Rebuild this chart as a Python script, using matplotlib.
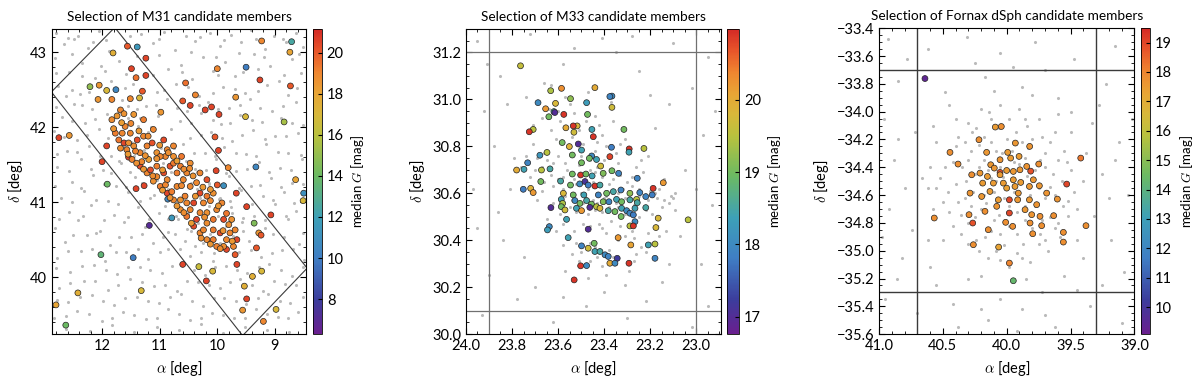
import numpy as np
import matplotlib
matplotlib.use("Agg")
import matplotlib.pyplot as plt
from matplotlib.colors import LinearSegmentedColormap
from matplotlib.ticker import AutoMinorLocator, MultipleLocator

plt.rcParams['font.family'] = ['Lato', 'DejaVu Sans']
plt.rcParams['mathtext.fontset'] = 'cm'

# --- M31: colored candidates (ra, dec, median G) ---
m31_field = [
    (11.56, 43.08, 20.0), (11.39, 43.07, 11.5), (11.81, 42.99, 17.5), (11.24, 42.92, 20.5),
    (11.49, 42.78, 20.5), (11.41, 42.66, 19.5), (11.24, 42.69, 20.5), (12.21, 42.54, 15.0),
    (12.05, 42.56, 18.5), (11.92, 42.49, 17.0), (11.76, 42.50, 10.5), (12.07, 42.37, 18.5),
    (11.83, 42.37, 19.0), (11.51, 42.38, 19.0), (11.30, 42.48, 20.0), (11.35, 42.39, 17.0),
    (10.98, 42.20, 18.5), (12.75, 41.86, 20.5), (12.57, 41.89, 18.5), (12.00, 41.54, 20.5),
    (11.91, 41.24, 14.0), (11.92, 41.75, 20.5), (11.41, 41.18, 20.5), (11.27, 41.22, 20.5),
    (11.54, 41.60, 20.5), (11.18, 40.69, 7.0), (12.02, 40.30, 13.5), (11.46, 40.26, 10.0),
    (11.32, 39.82, 17.0), (12.42, 39.79, 17.5), (12.80, 39.63, 18.0), (12.63, 39.36, 14.0),
    (10.60, 40.17, 20.5), (10.32, 40.14, 16.5), (10.19, 39.95, 20.5), (10.08, 40.08, 17.0),
    (10.86, 41.04, 10.5), (10.79, 40.79, 11.5), (10.55, 42.59, 19.5), (10.38, 42.43, 19.0),
    (10.60, 42.35, 20.0), (10.47, 42.29, 20.5), (10.21, 42.23, 20.5), (10.10, 42.27, 20.5),
    (10.00, 42.78, 19.0), (9.97, 42.17, 20.5), (10.04, 41.87, 20.0), (9.98, 41.69, 20.5),
    (10.02, 41.42, 20.5), (9.81, 41.46, 19.0), (10.00, 41.23, 20.0), (9.89, 41.22, 11.0),
    (9.67, 41.12, 20.5), (9.49, 40.94, 20.5), (9.68, 42.40, 18.5), (9.51, 42.14, 17.0),
    (9.50, 42.80, 10.0), (9.26, 42.63, 20.5), (9.23, 43.15, 19.0), (8.71, 43.14, 12.5),
    (8.74, 43.00, 18.0), (8.73, 42.55, 20.0), (8.84, 42.07, 15.5), (9.33, 41.47, 10.5),
    (8.64, 41.30, 18.0), (8.50, 41.12, 11.0), (8.51, 41.02, 17.0), (9.07, 40.83, 20.5),
    (9.36, 40.72, 14.5), (9.28, 40.59, 18.5), (9.24, 40.56, 20.0), (9.32, 40.39, 20.0),
    (9.39, 40.01, 17.5), (9.23, 40.08, 17.0), (9.53, 39.88, 17.5), (9.49, 39.71, 20.5),
    (9.56, 39.56, 18.5), (8.98, 39.57, 17.0), (9.20, 39.41, 19.0), (9.66, 40.17, 20.5),
    (9.69, 40.30, 20.0),
]
m31_disk = [
    (11.68, 42.23, 19.0), (11.45, 42.17, 18.5), (11.28, 42.10, 19.2), (11.11, 41.97, 19.0),
    (10.93, 41.83, 20.3), (10.76, 41.75, 19.0), (10.62, 41.61, 19.3), (10.47, 41.52, 18.8),
    (10.30, 41.39, 19.0), (10.18, 41.30, 20.2), (10.07, 41.12, 18.7), (9.92, 40.99, 19.0),
    (9.84, 40.85, 19.4), (9.75, 40.77, 18.6), (9.69, 40.63, 19.0), (9.66, 40.50, 20.4),
    (11.83, 42.10, 18.8), (11.77, 41.92, 19.2), (11.62, 41.79, 20.4), (11.57, 41.70, 19.0),
    (11.48, 41.57, 19.1), (11.34, 41.48, 20.3), (11.22, 41.39, 19.0), (11.11, 41.28, 18.7),
    (10.99, 41.21, 19.2), (10.87, 41.12, 20.4), (10.76, 41.03, 19.0), (10.64, 40.90, 18.8),
    (10.53, 40.81, 19.4), (10.41, 40.68, 20.3), (10.30, 40.59, 19.0), (10.18, 40.50, 18.9),
    (10.01, 40.41, 19.1), (9.84, 40.37, 20.4), (9.72, 40.41, 19.0),
    (11.51, 41.92, 19.0), (11.39, 41.83, 20.3), (11.22, 41.75, 19.1), (11.05, 41.66, 18.6),
    (10.90, 41.61, 19.0), (10.82, 41.48, 20.2), (10.70, 41.39, 19.2), (10.59, 41.30, 18.9),
    (10.47, 41.21, 19.0), (10.30, 41.12, 20.4), (10.24, 40.99, 19.0), (10.18, 40.86, 18.7),
    (10.07, 40.77, 19.3), (9.95, 40.59, 20.3), (9.84, 40.50, 19.0), (11.34, 41.66, 19.0),
    (11.19, 41.57, 18.3), (11.05, 41.48, 19.2), (10.93, 41.39, 20.3), (10.70, 41.21, 19.0),
    (10.56, 41.08, 19.1), (10.41, 40.99, 20.4), (10.30, 40.86, 19.0), (10.18, 40.72, 18.8),
    (10.07, 40.63, 19.2), (10.99, 41.61, 19.0), (10.87, 41.30, 18.9), (10.76, 41.52, 19.3),
    (10.53, 40.99, 19.0), (11.74, 42.15, 18.5), (11.60, 42.01, 19.0), (11.71, 41.83, 19.4),
    (11.45, 41.75, 18.8), (11.28, 41.88, 19.0), (11.13, 41.79, 20.2), (10.87, 41.70, 19.0),
    (10.76, 41.61, 18.7), (10.64, 41.48, 19.2), (10.53, 41.39, 19.0), (10.36, 41.26, 18.9),
    (10.18, 41.08, 19.3), (10.01, 40.90, 19.0), (9.89, 40.77, 20.3), (9.78, 40.59, 19.0),
    (9.89, 40.41, 18.8), (10.07, 40.50, 19.2), (10.24, 40.63, 19.0), (10.36, 40.77, 20.4),
    (10.47, 40.90, 19.0), (10.64, 41.03, 18.6), (10.79, 41.14, 19.2), (10.90, 41.23, 19.0),
    (11.05, 41.34, 18.9), (11.16, 41.43, 20.3), (11.31, 41.54, 19.0), (11.42, 41.68, 19.1),
    (11.54, 41.79, 18.7), (11.65, 41.92, 19.0),
    (11.62, 42.18, 18.6), (11.50, 42.05, 18.9), (11.36, 41.95, 18.4), (11.20, 41.88, 18.8),
    (11.00, 41.76, 18.5), (10.85, 41.66, 18.7), (10.70, 41.55, 18.3), (10.58, 41.44, 18.8),
    (10.42, 41.35, 18.6), (10.25, 41.20, 18.4), (10.12, 41.02, 18.9), (9.98, 40.95, 18.5),
    (9.80, 40.70, 18.7), (9.74, 40.48, 18.4), (9.95, 40.38, 18.8), (10.12, 40.44, 18.5),
    (10.28, 40.52, 18.7), (10.45, 40.72, 18.3), (10.58, 40.86, 18.8), (10.70, 40.95, 18.5),
    (10.82, 41.06, 18.6), (10.95, 41.16, 18.4), (11.12, 41.35, 18.8), (11.28, 41.44, 18.5),
    (11.40, 41.52, 18.7), (11.55, 41.64, 18.4), (11.68, 41.72, 18.8), (11.80, 41.98, 18.5),
    (11.66, 42.06, 18.3), (11.05, 41.58, 18.6), (10.62, 41.22, 18.9), (10.38, 41.08, 18.5),
    (10.22, 40.80, 18.7), (10.95, 41.43, 18.4), (11.25, 41.62, 18.6), (10.48, 41.45, 18.8),
    (10.12, 41.17, 18.5), (9.90, 40.62, 18.6),
]
# M31 background (grey) sources
m31_bg = [
    (12.80, 43.25), (12.41, 43.22), (12.05, 43.28), (11.33, 43.24), (10.92, 43.27), (10.55, 43.21),
    (10.12, 43.26), (9.77, 43.23), (9.41, 43.29), (9.02, 43.22), (8.63, 43.26),
    (12.66, 43.11), (12.25, 43.05), (11.93, 43.16), (11.12, 43.12), (10.74, 43.03), (10.38, 43.15),
    (9.95, 43.08), (9.58, 43.13), (9.17, 43.04), (8.86, 43.17), (8.52, 43.07), (12.48, 43.18),
    (12.81, 42.92), (12.34, 42.85), (11.71, 42.88), (11.02, 42.96), (10.63, 42.83), (10.25, 42.94),
    (9.86, 42.87), (9.37, 42.97), (9.08, 42.82), (8.70, 42.91), (12.02, 42.81),
    (12.57, 42.73), (12.12, 42.66), (11.58, 42.71), (10.85, 42.77), (10.44, 42.64), (10.08, 42.75),
    (9.69, 42.68), (9.29, 42.78), (8.93, 42.62), (8.55, 42.72), (11.85, 42.61),
    (12.76, 42.55), (12.38, 42.44), (11.47, 42.57), (11.05, 42.47), (10.72, 42.58), (10.31, 42.42),
    (9.90, 42.53), (9.52, 42.45), (9.13, 42.56), (8.78, 42.43), (12.63, 42.41),
    (12.49, 42.31), (12.18, 42.24), (11.66, 42.36), (11.24, 42.28), (10.88, 42.37), (10.52, 42.22),
    (10.16, 42.33), (9.80, 42.26), (9.44, 42.38), (9.05, 42.21), (8.64, 42.34),
    (12.70, 42.14), (12.29, 42.05), (11.92, 42.18), (11.38, 42.02), (11.03, 42.15), (10.65, 42.08),
    (10.29, 42.19), (9.93, 42.04), (9.61, 42.16), (9.22, 42.07), (8.90, 42.12), (8.51, 42.03),
    (12.84, 41.95), (12.44, 41.83), (12.06, 41.97), (11.21, 41.93), (10.81, 41.98), (10.47, 41.86),
    (10.11, 41.94), (9.74, 41.81), (9.38, 41.96), (8.99, 41.88), (8.60, 41.92),
    (12.61, 41.68), (12.23, 41.75), (11.85, 41.62), (10.97, 41.72), (10.60, 41.77), (10.22, 41.65),
    (9.88, 41.73), (9.50, 41.64), (9.15, 41.78), (8.77, 41.66),
    (12.78, 41.47), (12.36, 41.58), (11.98, 41.43), (11.67, 41.52), (10.72, 41.56), (10.38, 41.44),
    (10.02, 41.57), (9.67, 41.42), (9.27, 41.53), (8.92, 41.46), (8.53, 41.58),
    (12.53, 41.27), (12.15, 41.36), (11.76, 41.22), (11.42, 41.33), (10.51, 41.38), (10.14, 41.24),
    (9.79, 41.35), (9.42, 41.21), (9.06, 41.32), (8.70, 41.26),
    (12.72, 41.06), (12.31, 41.15), (11.89, 41.02), (11.55, 41.13), (11.16, 41.05), (10.36, 41.17),
    (9.97, 41.04), (9.58, 41.16), (9.20, 41.08), (8.84, 41.14),
    (12.57, 40.87), (12.19, 40.96), (11.80, 40.83), (11.37, 40.93), (11.01, 40.85), (10.72, 40.81),
    (9.76, 40.94), (9.37, 40.82), (9.00, 40.97), (8.63, 40.88),
    (12.82, 40.65), (12.42, 40.76), (12.03, 40.62), (11.62, 40.73), (11.26, 40.67), (10.86, 40.78),
    (10.52, 40.64), (9.57, 40.74), (9.17, 40.66), (8.78, 40.77),
    (12.64, 40.47), (12.26, 40.56), (11.87, 40.43), (11.49, 40.54), (11.11, 40.45), (10.74, 40.57),
    (10.39, 40.42), (9.45, 40.48), (9.03, 40.58), (8.58, 40.44),
    (12.79, 40.26), (12.37, 40.35), (11.95, 40.22), (11.58, 40.33), (11.20, 40.24), (10.85, 40.37),
    (10.47, 40.28), (10.08, 40.21), (9.62, 40.34), (9.24, 40.27), (8.87, 40.36), (8.50, 40.23),
    (12.55, 40.07), (12.14, 40.16), (11.74, 40.04), (11.35, 40.13), (10.96, 40.05), (10.60, 40.18),
    (10.22, 40.03), (9.85, 40.15), (9.48, 40.06), (9.10, 40.17), (8.71, 40.02),
    (12.74, 39.86), (12.32, 39.95), (11.90, 39.83), (11.51, 39.97), (11.09, 39.88), (10.70, 39.81),
    (10.33, 39.94), (9.96, 39.85), (9.60, 39.98), (9.21, 39.82), (8.82, 39.91),
    (12.59, 39.67), (12.18, 39.76), (11.79, 39.63), (11.40, 39.74), (11.02, 39.66), (10.63, 39.78),
    (10.25, 39.61), (9.88, 39.72), (9.50, 39.64), (9.12, 39.77), (8.74, 39.65), (8.52, 39.73),
    (12.83, 39.46), (12.43, 39.55), (12.00, 39.42), (11.63, 39.53), (11.24, 39.44), (10.86, 39.57),
    (10.48, 39.43), (10.10, 39.52), (9.71, 39.45), (9.33, 39.58), (8.95, 39.47), (8.60, 39.54),
    (12.62, 39.31), (12.21, 39.28), (11.82, 39.36), (11.44, 39.27), (11.05, 39.33), (10.66, 39.29),
    (10.28, 39.37), (9.90, 39.26), (9.52, 39.34), (9.14, 39.30), (8.76, 39.27),
    (12.60, 43.19), (12.15, 43.14), (11.52, 43.21), (11.02, 43.17), (10.30, 43.20), (9.88, 43.16),
    (9.33, 43.18), (8.80, 43.13), (12.52, 42.98), (11.88, 43.02), (11.40, 42.95), (10.45, 43.00),
    (10.02, 42.94), (9.62, 42.99), (9.19, 42.93), (8.58, 42.97), (12.80, 42.72), (12.35, 42.68),
    (11.95, 42.75), (11.12, 42.70), (10.61, 42.74), (9.98, 42.69), (9.55, 42.73), (8.84, 42.70),
    (12.52, 42.50), (12.22, 42.47), (11.60, 42.52), (10.92, 42.49), (10.50, 42.53), (10.08, 42.46),
    (9.70, 42.51), (9.30, 42.48), (8.62, 42.52), (12.80, 42.27), (12.35, 42.30), (11.40, 42.24),
    (11.06, 42.29), (10.70, 42.25), (10.32, 42.30), (9.98, 42.24), (9.60, 42.29), (9.25, 42.26),
    (8.86, 42.28), (12.52, 42.08), (12.12, 42.11), (10.45, 42.06), (10.08, 42.10), (9.78, 42.05),
    (9.40, 42.09), (8.70, 42.06), (12.66, 41.87), (12.27, 41.90), (11.90, 41.85), (10.28, 41.89),
    (9.92, 41.86), (9.57, 41.90), (9.18, 41.84), (8.80, 41.88), (12.78, 41.64), (12.43, 41.67),
    (12.03, 41.61), (10.40, 41.66), (10.04, 41.62), (9.68, 41.66), (9.32, 41.62), (8.95, 41.67),
    (8.55, 41.63), (12.58, 41.41), (12.20, 41.44), (11.85, 41.39), (10.20, 41.43), (9.85, 41.39),
    (9.48, 41.44), (9.10, 41.40), (8.72, 41.43), (12.82, 41.22), (12.36, 41.19), (11.96, 41.24),
    (11.58, 41.20), (9.98, 41.24), (9.62, 41.19), (9.25, 41.23), (8.90, 41.20), (8.52, 41.24),
    (12.52, 41.00), (12.10, 41.03), (11.72, 40.98), (11.34, 41.02), (10.52, 40.98), (9.78, 41.02),
    (9.40, 40.98), (9.03, 41.03), (8.66, 40.99), (12.74, 40.78), (12.33, 40.81), (11.96, 40.76),
    (11.55, 40.80), (11.18, 40.77), (10.86, 40.60), (9.55, 40.79), (9.18, 40.76), (8.80, 40.81),
    (12.50, 40.56), (12.10, 40.59), (11.70, 40.54), (11.30, 40.58), (10.94, 40.54), (10.56, 40.48),
    (9.30, 40.57), (8.85, 40.54), (8.52, 40.59), (12.60, 40.35), (12.18, 40.38), (11.76, 40.33),
    (11.38, 40.37), (11.00, 40.33), (10.64, 40.38), (10.28, 40.33), (9.42, 40.36), (9.05, 40.32),
    (8.68, 40.38), (12.80, 40.12), (12.35, 40.15), (11.94, 40.10), (11.55, 40.14), (11.16, 40.10),
    (10.78, 40.15), (10.40, 40.10), (10.04, 40.14), (9.66, 40.10), (9.28, 40.14), (8.90, 40.10),
    (8.52, 40.14), (12.55, 39.92), (12.12, 39.95), (11.72, 39.90), (11.30, 39.94), (10.90, 39.90),
    (10.52, 39.95), (10.14, 39.90), (9.78, 39.94), (9.40, 39.90), (9.02, 39.95), (8.64, 39.90),
    (12.78, 39.70), (12.38, 39.73), (11.98, 39.68), (11.60, 39.72), (11.20, 39.68), (10.82, 39.73),
    (10.44, 39.68), (10.06, 39.72), (9.68, 39.68), (9.30, 39.72), (8.92, 39.68), (12.62, 39.48),
    (12.22, 39.51), (11.82, 39.46), (11.44, 39.50), (11.05, 39.46), (10.67, 39.51), (10.29, 39.46),
    (9.90, 39.50), (9.52, 39.46), (9.14, 39.51), (8.78, 39.46),
    (11.72, 42.22), (11.55, 42.12), (11.40, 41.98), (11.78, 41.99), (11.50, 41.80), (11.28, 41.70),
    (11.10, 41.60), (10.95, 41.52), (10.80, 41.40), (10.62, 41.33), (10.45, 41.25), (10.30, 41.05),
    (10.15, 40.95), (9.98, 40.82), (9.85, 40.68), (9.72, 40.55), (9.95, 40.45), (10.12, 40.58),
    (10.33, 40.72), (10.50, 40.86), (10.70, 41.00), (10.85, 41.18), (11.05, 41.30), (11.25, 41.45),
    (11.45, 41.62), (11.62, 41.75), (11.70, 41.55), (11.52, 41.40), (11.30, 41.25), (11.10, 41.10),
    (10.90, 40.95), (10.68, 40.78), (10.45, 40.62), (10.25, 40.45), (10.05, 40.32), (9.70, 40.40),
    (9.55, 40.62), (9.75, 40.85), (9.95, 41.05), (10.15, 41.25), (10.35, 41.40), (10.55, 41.55),
    (10.75, 41.72), (10.95, 41.85), (11.15, 42.00), (11.35, 42.12), (11.55, 42.28),
]
# selection box corners for M31 (ra, dec)
m31_box = [(12.88, 42.47), (11.78, 43.33), (8.44, 40.12), (9.56, 39.22)]

# --- M33 ---
m33_members = [
    (23.763, 31.143, 19.6), (23.632, 31.037, 19.4), (23.585, 31.047, 20.3), (23.440, 31.050, 20.0),
    (23.366, 31.014, 18.0), (23.375, 31.012, 17.9), (23.687, 30.986, 18.0), (23.611, 30.983, 19.8),
    (23.546, 31.003, 19.2), (23.476, 30.986, 18.3), (23.366, 30.966, 19.7), (23.654, 30.960, 20.2),
    (23.618, 30.948, 18.5), (23.640, 30.926, 19.0), (23.614, 30.944, 17.0), (23.575, 30.936, 20.9),
    (23.472, 30.936, 19.0), (23.517, 30.887, 19.8), (23.534, 30.887, 20.9), (23.566, 30.879, 20.0),
    (23.531, 30.860, 19.7), (23.708, 30.872, 19.5), (23.725, 30.862, 20.9), (23.453, 30.872, 18.4),
    (23.447, 30.841, 20.9), (23.314, 30.872, 19.0), (23.582, 30.816, 19.0), (23.551, 30.799, 19.9),
    (23.512, 30.810, 17.0), (23.498, 30.784, 18.4), (23.538, 30.763, 19.0), (23.368, 30.796, 17.8),
    (23.291, 30.789, 20.9), (23.292, 30.775, 18.4), (23.227, 30.791, 19.5), (23.375, 30.756, 20.8),
    (23.732, 30.730, 17.9), (23.679, 30.762, 18.2), (23.648, 30.774, 19.5), (23.454, 30.759, 18.0),
    (23.464, 30.749, 19.0), (23.415, 30.716, 19.7), (23.498, 30.730, 19.0), (23.433, 30.744, 18.4),
    (23.780, 30.699, 20.0), (23.748, 30.702, 18.4), (23.672, 30.699, 19.5), (23.635, 30.704, 18.5),
    (23.675, 30.650, 19.0), (23.589, 30.652, 18.5), (23.538, 30.682, 19.0), (23.502, 30.678, 20.9),
    (23.479, 30.682, 19.0), (23.452, 30.674, 18.4), (23.404, 30.685, 19.1), (23.366, 30.696, 19.0),
    (23.337, 30.685, 17.9), (23.256, 30.664, 17.9), (23.143, 30.645, 20.2), (23.187, 30.621, 20.9),
    (23.546, 30.635, 19.0), (23.506, 30.640, 18.0), (23.483, 30.650, 17.1), (23.469, 30.635, 17.8),
    (23.440, 30.631, 20.9), (23.418, 30.635, 18.5), (23.751, 30.617, 17.8), (23.719, 30.621, 19.9),
    (23.708, 30.603, 20.2), (23.577, 30.600, 19.8), (23.534, 30.593, 19.0), (23.488, 30.593, 18.4),
    (23.425, 30.593, 17.9), (23.389, 30.600, 19.0), (23.360, 30.607, 18.5), (23.327, 30.614, 17.9),
    (23.288, 30.600, 19.2), (23.245, 30.603, 17.9), (23.219, 30.586, 17.9), (23.191, 30.593, 17.8),
    (23.586, 30.574, 18.4), (23.580, 30.557, 19.4), (23.527, 30.569, 18.0), (23.505, 30.557, 19.0),
    (23.476, 30.569, 18.5), (23.455, 30.554, 19.0), (23.404, 30.564, 19.1), (23.379, 30.564, 17.9),
    (23.346, 30.574, 18.4), (23.324, 30.564, 19.0), (23.288, 30.572, 18.5), (23.259, 30.574, 19.5),
    (23.256, 30.560, 18.5), (23.586, 30.543, 19.0), (23.570, 30.529, 19.7), (23.520, 30.536, 18.4),
    (23.498, 30.526, 20.2), (23.462, 30.540, 17.0), (23.433, 30.543, 19.5), (23.418, 30.536, 19.8),
    (23.382, 30.526, 18.5), (23.353, 30.522, 19.0), (23.324, 30.536, 18.4), (23.302, 30.526, 18.0),
    (23.288, 30.515, 17.9), (23.273, 30.508, 17.8), (23.266, 30.536, 18.4), (23.219, 30.539, 18.5),
    (23.631, 30.539, 17.0), (23.326, 30.501, 19.0), (23.266, 30.479, 18.0), (23.288, 30.461, 19.5),
    (23.273, 30.461, 20.9), (23.165, 30.494, 19.8), (23.175, 30.454, 19.8), (23.035, 30.487, 19.5),
    (23.563, 30.489, 18.4), (23.638, 30.458, 18.0), (23.646, 30.444, 18.3), (23.469, 30.447, 17.0),
    (23.556, 30.411, 18.4), (23.339, 30.411, 20.2), (23.284, 30.380, 20.1), (23.443, 30.387, 19.0),
    (23.498, 30.376, 17.9), (23.469, 30.366, 19.7), (23.440, 30.352, 18.4), (23.418, 30.352, 18.5),
    (23.396, 30.338, 18.0), (23.382, 30.331, 17.9), (23.343, 30.323, 17.2), (23.208, 30.380, 18.4),
    (23.179, 30.384, 19.5), (23.179, 30.323, 17.9), (23.375, 30.302, 20.0), (23.353, 30.302, 18.0),
    (23.292, 30.302, 20.9), (23.502, 30.291, 20.9), (23.476, 30.292, 18.0), (23.530, 30.231, 20.9),
]
m33_bg = [
    (23.95, 31.25), (23.72, 31.28), (23.41, 31.26), (23.10, 31.24), (22.95, 31.18), (23.85, 31.10),
    (23.58, 31.15), (23.25, 31.12), (23.02, 31.05), (23.92, 30.95), (23.12, 30.98), (22.97, 30.85),
    (23.88, 30.80), (23.81, 30.62), (23.05, 30.70), (22.93, 30.55), (23.95, 30.45), (23.84, 30.40),
    (23.07, 30.42), (22.98, 30.30), (23.90, 30.25), (23.70, 30.20), (23.40, 30.18), (23.15, 30.22),
    (22.95, 30.12), (23.93, 30.08), (23.62, 30.05), (23.30, 30.07), (23.02, 30.03), (23.75, 30.33),
    (23.10, 30.58), (23.82, 30.98), (23.35, 31.20), (23.66, 31.07), (23.18, 30.88), (23.97, 30.62),
    (23.78, 30.15), (23.48, 30.12), (23.22, 30.14), (22.92, 30.95), (23.53, 31.22), (23.20, 31.02),
    (23.86, 30.52), (23.00, 30.62), (23.58, 30.16), (23.12, 30.30), (23.91, 31.15), (23.28, 31.27),
    (23.64, 30.96), (23.59, 30.91), (23.53, 30.94), (23.51, 30.87), (23.44, 30.93), (23.41, 30.85),
    (23.36, 30.91), (23.31, 30.83), (23.57, 31.01), (23.47, 31.03), (23.37, 30.99),
    (23.71, 30.81), (23.66, 30.77), (23.61, 30.83), (23.54, 30.77), (23.49, 30.81), (23.46, 30.74),
    (23.39, 30.80), (23.34, 30.73), (23.29, 30.79), (23.24, 30.74), (23.21, 30.76),
    (23.73, 30.73), (23.67, 30.71), (23.62, 30.73), (23.58, 30.67), (23.51, 30.72), (23.48, 30.65),
    (23.43, 30.71), (23.36, 30.66), (23.33, 30.68), (23.28, 30.63), (23.23, 30.69), (23.16, 30.62),
    (23.67, 30.61), (23.60, 30.66), (23.57, 30.59), (23.52, 30.64), (23.45, 30.57), (23.42, 30.63),
    (23.35, 30.56), (23.32, 30.62), (23.27, 30.55), (23.20, 30.61), (23.15, 30.54), (23.11, 30.59),
    (23.62, 30.56), (23.59, 30.51), (23.54, 30.57), (23.47, 30.51), (23.44, 30.53), (23.37, 30.48),
    (23.34, 30.54), (23.29, 30.47), (23.22, 30.53), (23.17, 30.46),
    (23.61, 30.44), (23.56, 30.41), (23.49, 30.47), (23.46, 30.39), (23.41, 30.45), (23.34, 30.40),
    (23.31, 30.42), (23.24, 30.37), (23.21, 30.43),
    (23.54, 30.34), (23.51, 30.31), (23.44, 30.37), (23.41, 30.29), (23.36, 30.33), (23.29, 30.27),
    (23.26, 30.34), (23.47, 30.24), (23.39, 30.25), (23.31, 30.21),
    (23.63, 30.68), (23.55, 30.63), (23.44, 30.69), (23.39, 30.59), (23.28, 30.67), (23.49, 30.56),
    (23.36, 30.52), (23.25, 30.59), (23.58, 30.47), (23.42, 30.47), (23.52, 30.39), (23.27, 30.41),
    (23.57, 30.73), (23.47, 30.75), (23.43, 30.82), (23.54, 30.84), (23.63, 30.87), (23.33, 30.81),
    (23.26, 30.71), (23.19, 30.51), (23.14, 30.66), (23.69, 30.57), (23.72, 30.67), (23.76, 30.71),
    (23.79, 30.75), (23.65, 30.49), (23.46, 30.31), (23.38, 30.36), (23.22, 30.35), (23.57, 30.27),
    (23.13, 30.44), (23.09, 30.53), (23.71, 30.89), (23.74, 31.01), (23.63, 31.06),
    (23.50, 30.60), (23.47, 30.62), (23.40, 30.58), (23.38, 30.64), (23.53, 30.66), (23.31, 30.58),
    (23.45, 30.65), (23.41, 30.52), (23.55, 30.54), (23.34, 30.60), (23.12, 30.56), (23.09, 30.60),
    (23.17, 30.58), (23.69, 30.75), (23.65, 30.74), (23.60, 30.76), (23.56, 30.70), (23.50, 30.68),
    (23.46, 30.70), (23.41, 30.67), (23.37, 30.70), (23.30, 30.65), (23.25, 30.62), (23.21, 30.57),
    (23.18, 30.60), (23.14, 30.57), (23.43, 30.60), (23.48, 30.58), (23.52, 30.52), (23.46, 30.46),
    (23.39, 30.43), (23.33, 30.46), (23.28, 30.44), (23.25, 30.50), (23.31, 30.51), (23.38, 30.54),
    (23.43, 30.56), (23.58, 30.62), (23.62, 30.63), (23.66, 30.65), (23.70, 30.70), (23.74, 30.76),
    (23.55, 30.80), (23.50, 30.76), (23.44, 30.78), (23.40, 30.74), (23.35, 30.77), (23.42, 30.89),
    (23.48, 30.91), (23.55, 30.98), (23.60, 30.95), (23.67, 30.92), (23.50, 30.35), (23.43, 30.33),
    (23.35, 30.30), (23.27, 30.31), (23.20, 30.39), (23.16, 30.42), (23.53, 30.44), (23.58, 30.38),
]
m33_box_ra = [23.9, 23.0]
m33_box_dec = [30.1, 31.2]

# --- Fornax dSph ---
fnx_members = [
    (40.640, -33.762, 9.4), (39.948, -35.216, 14.3), (39.979, -35.089, 18.0), (40.063, -34.974, 17.3),
    (40.261, -34.957, 17.8), (40.567, -34.765, 17.8), (40.266, -34.801, 18.8), (40.444, -34.293, 17.8),
    (40.381, -34.377, 17.8), (40.217, -34.202, 17.8), (40.089, -34.111, 17.5), (40.042, -34.107, 17.8),
    (40.157, -34.293, 17.6), (39.992, -34.293, 17.5), (39.932, -34.226, 17.6), (39.820, -34.250, 17.7),
    (39.903, -34.322, 17.5), (39.969, -34.334, 17.5), (40.052, -34.346, 17.7), (40.125, -34.382, 17.6),
    (39.749, -34.377, 17.8), (39.420, -34.334, 18.2), (39.530, -34.521, 19.0), (39.812, -34.428, 18.8),
    (40.052, -34.437, 18.8), (40.274, -34.454, 17.8), (40.209, -34.442, 17.6), (40.151, -34.466, 17.5),
    (40.000, -34.423, 17.5), (39.948, -34.430, 17.6), (39.896, -34.418, 17.6), (39.843, -34.394, 17.7),
    (40.188, -34.514, 17.5), (40.104, -34.514, 17.5), (40.026, -34.514, 17.5), (40.000, -34.550, 17.4),
    (39.935, -34.538, 17.5), (39.822, -34.538, 17.6), (39.744, -34.533, 17.6), (39.687, -34.586, 17.7),
    (40.287, -34.586, 17.7), (40.196, -34.610, 17.6), (40.065, -34.634, 17.5), (39.979, -34.634, 19.0),
    (39.914, -34.634, 17.6), (39.822, -34.634, 17.6), (39.765, -34.669, 17.7), (39.603, -34.629, 17.7),
    (40.078, -34.681, 17.7), (39.979, -34.729, 19.0), (39.856, -34.705, 17.6), (39.804, -34.741, 17.7),
    (39.739, -34.753, 17.8), (39.632, -34.748, 17.8), (40.295, -34.741, 17.8), (40.170, -34.717, 17.8),
    (40.008, -34.796, 17.8), (39.953, -34.825, 17.8), (39.817, -34.801, 17.8), (39.726, -34.820, 17.8),
    (39.796, -34.878, 17.8), (39.556, -34.868, 17.8), (39.556, -34.938, 17.8), (39.379, -34.820, 17.8),
    (40.144, -34.849, 17.8), (40.052, -34.454, 17.5), (39.948, -34.490, 17.5), (40.097, -34.406, 17.6),
    (39.890, -34.509, 17.5), (39.791, -34.490, 17.6), (40.131, -34.574, 17.5), (39.909, -34.586, 17.6),
]
fnx_bg = [
    (40.93, -33.48), (40.62, -33.55), (40.31, -33.46), (40.05, -33.58), (39.78, -33.50), (39.47, -33.62),
    (39.15, -33.53), (40.85, -33.78), (40.48, -33.86), (40.17, -33.75), (39.88, -33.82), (39.60, -33.90),
    (39.22, -33.80), (40.96, -34.05), (40.72, -34.15), (40.58, -34.10), (39.33, -34.08), (39.12, -34.22),
    (40.88, -34.35), (40.66, -34.48), (39.25, -34.45), (39.05, -34.60), (40.92, -34.70), (40.74, -34.85),
    (39.32, -34.75), (39.18, -34.92), (40.82, -35.05), (40.60, -35.12), (39.40, -35.05), (39.08, -35.15),
    (40.95, -35.35), (40.70, -35.45), (40.42, -35.38), (40.15, -35.50), (39.88, -35.42), (39.62, -35.55),
    (39.35, -35.40), (39.10, -35.52), (40.55, -35.25), (39.72, -35.30), (40.30, -35.20), (39.55, -35.18),
    (40.05, -35.35), (40.45, -33.95), (39.50, -34.00), (40.80, -34.55), (39.15, -34.35), (40.62, -34.92),
    (39.45, -35.28), (40.25, -33.65), (39.70, -33.70), (40.98, -34.90), (39.02, -34.05), (40.38, -35.55),
    (39.92, -35.58), (40.78, -33.62), (39.95, -33.68), (39.28, -33.95), (40.85, -34.20), (39.20, -34.62),
    (40.86, -35.20), (39.25, -35.25), (40.20, -35.42), (39.70, -35.46),
    (40.45, -34.30), (40.38, -34.18), (40.30, -34.08), (40.20, -33.98), (40.05, -33.95), (39.90, -33.98),
    (39.75, -34.05), (39.62, -34.15), (39.55, -34.28), (39.50, -34.42), (39.47, -34.58), (39.52, -34.75),
    (39.58, -34.90), (39.68, -35.00), (39.82, -35.08), (39.98, -35.12), (40.15, -35.05), (40.30, -34.95),
    (40.42, -34.82), (40.50, -34.65), (40.52, -34.48),
    (40.35, -34.40), (40.28, -34.28), (40.18, -34.18), (40.06, -34.12), (39.93, -34.15), (39.80, -34.20),
    (39.70, -34.30), (39.64, -34.45), (39.62, -34.60), (39.66, -34.76), (39.74, -34.88), (39.87, -34.95),
    (40.02, -34.96), (40.17, -34.90), (40.30, -34.80), (40.38, -34.65), (40.40, -34.52),
    (40.25, -34.45), (40.18, -34.35), (40.08, -34.28), (39.96, -34.28), (39.86, -34.33), (39.78, -34.42),
    (39.75, -34.55), (39.78, -34.68), (39.86, -34.78), (39.98, -34.82), (40.10, -34.78), (40.20, -34.70),
    (40.26, -34.58), (40.12, -34.48), (40.05, -34.40), (39.95, -34.42), (39.88, -34.50), (39.90, -34.62),
    (39.98, -34.68), (40.08, -34.64), (40.14, -34.56), (40.00, -34.55), (39.96, -34.50), (40.03, -34.47),
    (40.42, -34.36), (40.33, -34.22), (40.24, -34.12), (40.12, -34.05), (39.98, -34.05), (39.84, -34.10),
    (39.72, -34.18), (39.60, -34.35), (39.57, -34.50), (39.56, -34.68), (39.62, -34.84), (39.75, -34.95),
    (39.92, -35.02), (40.08, -35.00), (40.24, -34.92), (40.36, -34.74), (40.46, -34.58),
    (40.32, -34.50), (40.22, -34.24), (40.00, -34.20), (39.83, -34.26), (39.70, -34.40), (39.70, -34.62),
    (39.80, -34.84), (40.05, -34.88), (40.25, -34.76), (40.33, -34.62), (40.15, -34.42), (39.90, -34.38),
    (39.82, -34.60), (39.92, -34.72), (40.16, -34.66), (40.20, -34.52), (40.06, -34.34), (39.94, -34.58),
    (40.10, -34.58), (40.02, -34.62), (40.60, -34.40), (40.58, -34.70), (39.40, -34.50), (39.45, -34.70),
    (39.50, -34.15), (40.40, -34.05), (40.55, -34.22), (40.50, -34.92), (39.38, -34.30), (39.45, -34.92),
    (40.62, -34.55), (39.85, -35.20), (40.20, -35.18), (39.60, -34.02), (40.10, -33.85), (39.80, -33.88),
    (40.48, -34.40), (40.40, -34.25), (40.27, -34.15), (40.14, -34.00), (39.86, -34.05), (39.66, -34.22),
    (39.53, -34.36), (39.52, -34.64), (39.60, -34.80), (39.70, -34.92), (39.88, -35.05), (40.05, -35.07),
    (40.22, -35.00), (40.36, -34.88), (40.45, -34.72), (40.55, -34.55), (40.30, -34.35), (40.12, -34.22),
    (39.88, -34.22), (39.74, -34.35), (39.66, -34.54), (39.72, -34.78), (39.92, -34.88), (40.12, -34.86),
    (40.28, -34.68), (40.22, -34.40), (40.04, -34.30), (39.84, -34.46), (39.86, -34.68), (40.06, -34.74),
    (40.18, -34.60), (40.08, -34.50), (39.94, -34.36), (40.00, -34.72),
]
fnx_box_ra = [40.7, 39.3]
fnx_box_dec = [-35.3, -33.7]

# colour map approximating the reference (purple -> blue -> green -> yellow -> red)
cmap = LinearSegmentedColormap.from_list('median_g', [
    (0.00, '#6a1f8f'), (0.11, '#3c3c9c'), (0.25, '#3f7fc4'), (0.38, '#3da0b8'),
    (0.52, '#6cba62'), (0.65, '#b9c23e'), (0.72, '#d8b83a'), (0.79, '#e8a535'),
    (0.86, '#ef8530'), (0.93, '#e8552a'), (1.00, '#d42a26')])

fig = plt.figure(figsize=(12, 3.81), dpi=100)

def style_axes(ax):
    ax.tick_params(which='both', direction='in', top=True, right=True, labelsize=10.5)
    ax.tick_params(which='major', length=4)
    ax.tick_params(which='minor', length=2)
    ax.set_xlabel(r'$\alpha$ [deg]', fontsize=10.5)
    ax.set_ylabel(r'$\delta$ [deg]', fontsize=10.5)

def add_cbar(mappable, pos, step):
    cax = fig.add_axes(pos)
    cb = fig.colorbar(mappable, cax=cax)
    cb.locator = MultipleLocator(step)
    cb.update_ticks()
    cb.ax.tick_params(labelsize=10.5, direction='in', length=3)
    cb.set_label(r'median $G$ [mag]', fontsize=9.5)
    cb.outline.set_linewidth(0.6)
    return cb

panels = [
    dict(title='Selection of M31 candidate members', pos=[0.0433, 0.123, 0.2117, 0.801],
         cpos=[0.2608, 0.123, 0.0075, 0.801], xlim=(12.87, 8.46), ylim=(39.24, 43.31),
         vlim=(6.3, 21.15), cstep=2, xstep=1, ystep=1, bg=m31_bg, members=m31_field + m31_disk),
    dict(title='Selection of M33 candidate members', pos=[0.3883, 0.123, 0.2122, 0.801],
         cpos=[0.6056, 0.123, 0.0103, 0.801], xlim=(24.0, 22.894), ylim=(30.0, 31.3),
         vlim=(16.76, 20.98), cstep=1, xstep=0.2, ystep=0.2, bg=m33_bg, members=m33_members),
    dict(title='Selection of Fornax dSph candidate members', pos=[0.7325, 0.123, 0.2128, 0.803],
         cpos=[0.9506, 0.123, 0.0078, 0.803], xlim=(41.0, 39.0), ylim=(-35.6, -33.4),
         vlim=(9.08, 19.49), cstep=1, xstep=0.5, ystep=0.2, bg=fnx_bg, members=fnx_members),
]

axes = []
for p in panels:
    ax = fig.add_axes(p['pos'])
    bra, bdec = zip(*p['bg'])
    ax.scatter(bra, bdec, s=5, c='#bababa', linewidths=0, zorder=1)
    ra, dec, g = zip(*p['members'])
    sc = ax.scatter(ra, dec, c=g, s=18, cmap=cmap, vmin=p['vlim'][0], vmax=p['vlim'][1],
                    edgecolors='#222222', linewidths=0.5, zorder=3)
    ax.set_xlim(*p['xlim'])
    ax.set_ylim(*p['ylim'])
    ax.set_title(p['title'], fontsize=9.8)
    ax.xaxis.set_major_locator(MultipleLocator(p['xstep']))
    ax.yaxis.set_major_locator(MultipleLocator(p['ystep']))
    ax.xaxis.set_minor_locator(AutoMinorLocator())
    ax.yaxis.set_minor_locator(AutoMinorLocator())
    style_axes(ax)
    add_cbar(sc, p['cpos'], p['cstep'])
    axes.append(ax)

# selection boxes
bx = [c[0] for c in m31_box] + [m31_box[0][0]]
by = [c[1] for c in m31_box] + [m31_box[0][1]]
axes[0].plot(bx, by, color='#3a3a3a', lw=0.8, zorder=2)
for r in m33_box_ra:
    axes[1].axvline(r, color='#707070', lw=0.9, zorder=2)
for d in m33_box_dec:
    axes[1].axhline(d, color='#707070', lw=0.9, zorder=2)
for r in fnx_box_ra:
    axes[2].axvline(r, color='#3a3a3a', lw=1.0, zorder=2)
for d in fnx_box_dec:
    axes[2].axhline(d, color='#3a3a3a', lw=1.0, zorder=2)

fig.savefig('out.png', dpi=100)
